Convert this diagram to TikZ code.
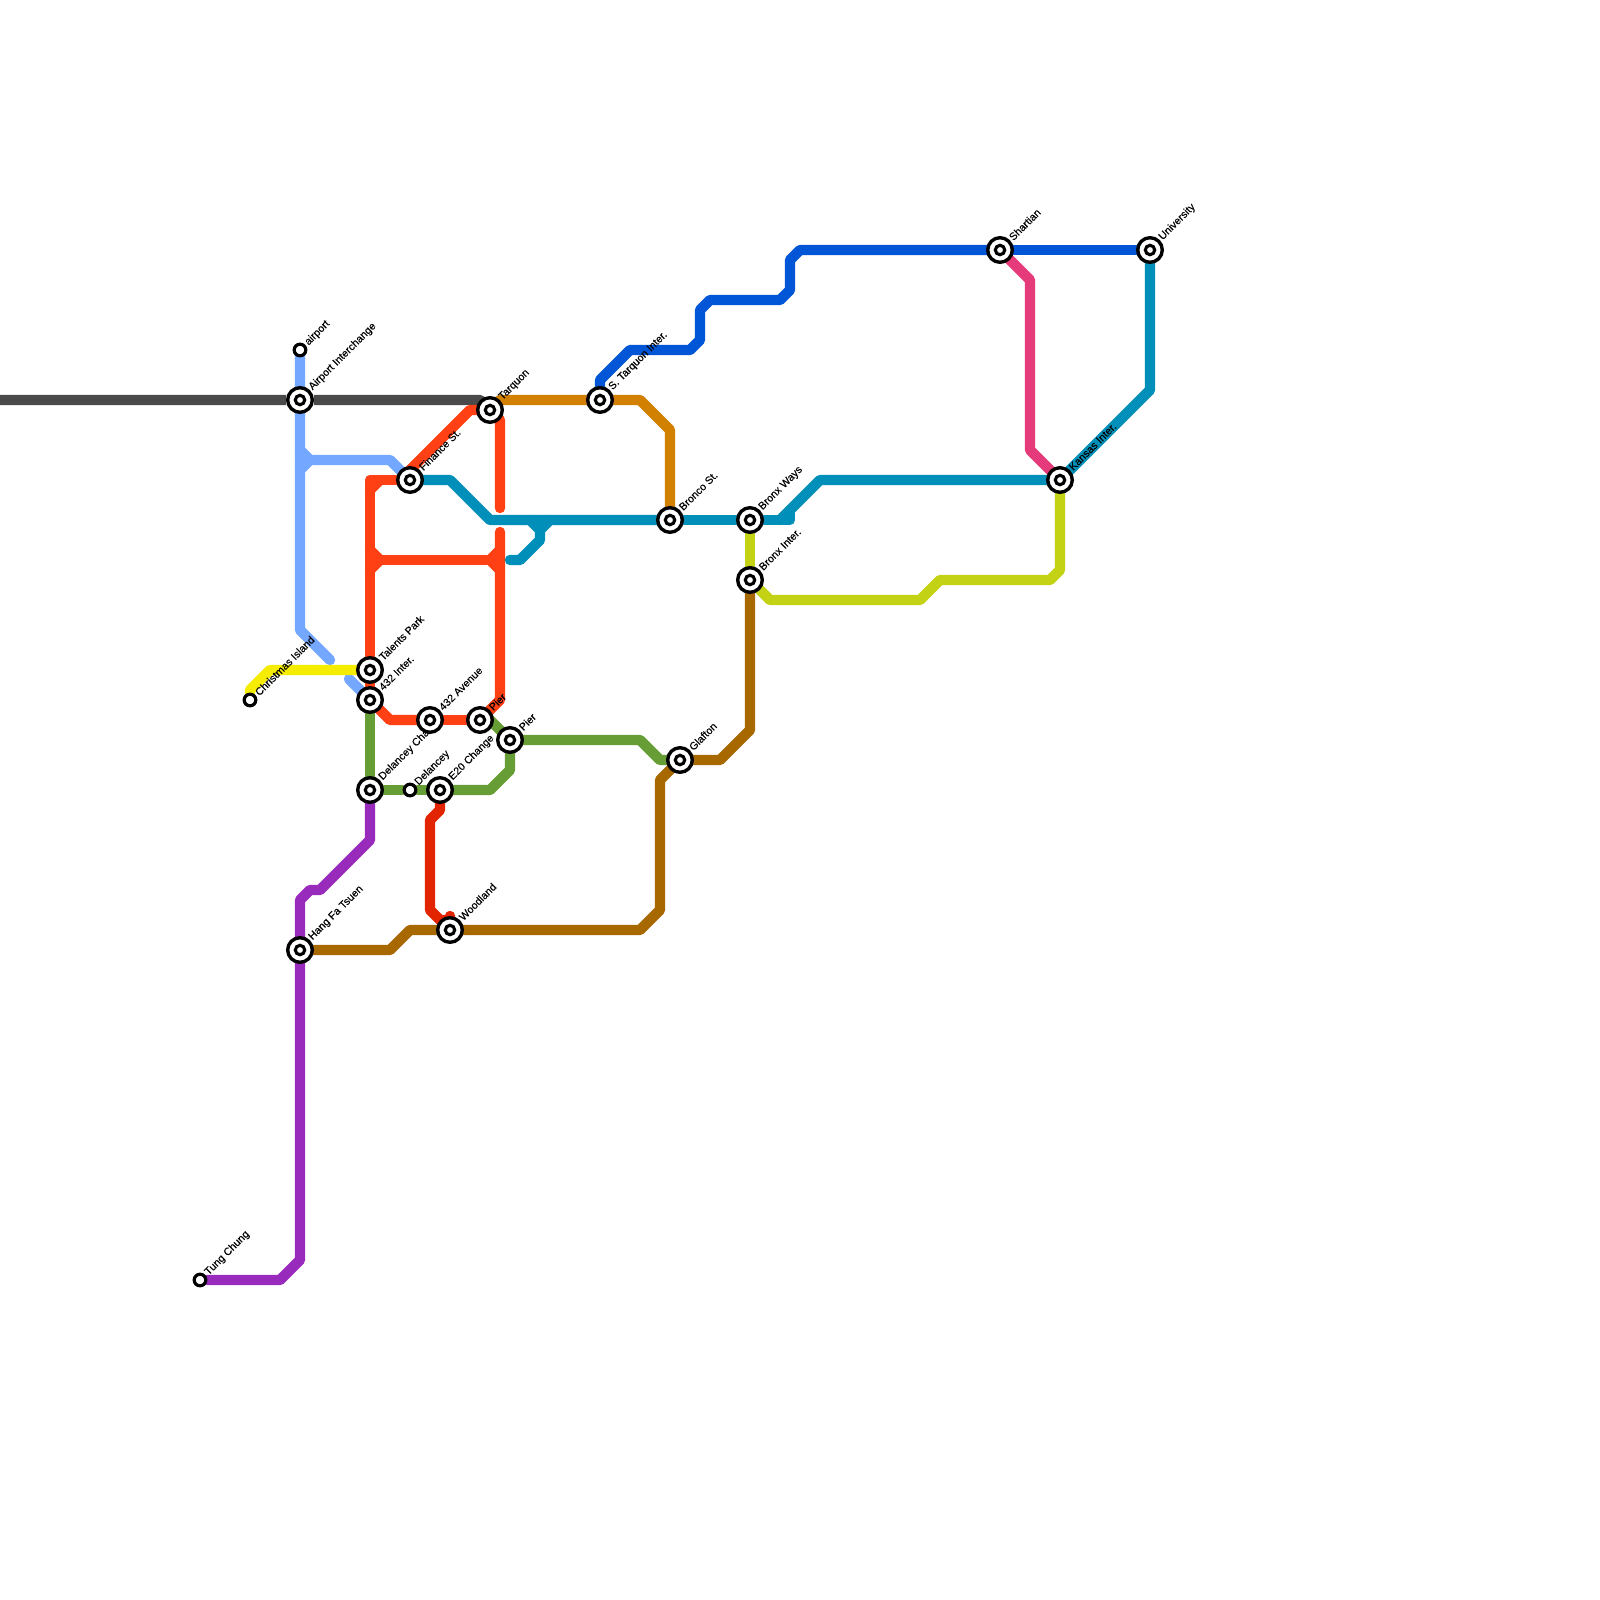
\documentclass[tikz,border=0pt]{standalone}
\usepackage{fontspec}
\setmainfont{Liberation Sans}
\newfontfamily\lblfont[FakeBold=0.25]{Liberation Sans}
\pgfdeclarelayer{lab}
\pgfdeclarelayer{front}
\pgfsetlayers{main,lab,front}
\definecolor{cGrey}{HTML}{4A4A4A}
\definecolor{cOrange}{HTML}{D28000}
\definecolor{cRedO}{HTML}{FF4014}
\definecolor{cLight}{HTML}{74A7FF}
\definecolor{cTeal}{HTML}{008FB8}
\definecolor{cBlue}{HTML}{0056D6}
\definecolor{cPink}{HTML}{E63B7A}
\definecolor{cLime}{HTML}{C4D215}
\definecolor{cBrown}{HTML}{A86800}
\definecolor{cGreen}{HTML}{669D34}
\definecolor{cRed}{HTML}{E22400}
\definecolor{cPurple}{HTML}{982ABC}
\definecolor{cYellow}{HTML}{F5EC00}
\tikzset{
  x=5pt,y=-5pt,
  rail/.style={line width=5.2pt,line cap=round,line join=round},
  hub/.style={circle,draw=black,line width=1.7pt,fill=white,minimum size=12.3pt,inner sep=0pt,
    path picture={\draw[black,line width=1.55pt] (path picture bounding box.center) circle (2.35pt);}},
  halt/.style={circle,draw=black,line width=1.6pt,fill=white,minimum size=5.8pt,inner sep=0pt},
  lbl/.style={font=\lblfont\fontsize{5.3pt}{6pt}\selectfont,rotate=45,anchor=west,inner sep=0pt,text=black},
}
\newcommand{\Hub}[4]{%
  \begin{pgfonlayer}{front}\node[hub] (#1) at (#2,#3) {};\end{pgfonlayer}
  \begin{pgfonlayer}{lab}\node[lbl] (#1L) at (#2+1.05,#3-1.12) {#4};\end{pgfonlayer}}
\newcommand{\Halt}[4]{%
  \begin{pgfonlayer}{front}\node[halt] (#1) at (#2,#3) {};\end{pgfonlayer}
  \begin{pgfonlayer}{lab}\node[lbl] (#1L) at (#2+0.65,#3-0.6) {#4};\end{pgfonlayer}}
\begin{document}
\begin{tikzpicture}
\useasboundingbox (0,0) rectangle (160,160);
\fill[white] (0,0) rectangle (160,160);
\Halt{air}{30}{35}{airport}
\Hub{airi}{30}{40}{Airport Interchange}
\Hub{fin}{41}{48}{Finance St.}
\Hub{tar}{49}{41}{Tarquon}
\Hub{star}{60}{40}{S. Tarquon Inter.}
\Hub{bro}{67}{52}{Bronco St.}
\Hub{bw}{75}{52}{Bronx Ways}
\Hub{bi}{75}{58}{Bronx Inter.}
\Hub{gla}{68}{76}{Glafton}
\Hub{tal}{37}{67}{Talents Park}
\Hub{fti}{37}{70}{432 Inter.}
\Hub{fta}{43}{72}{432 Avenue}
\Hub{pa}{48}{72}{Pier}
\Hub{pb}{51}{74}{Pier}
\Hub{dc}{37}{79}{Delancey Change}
\Halt{del}{41}{79}{Delancey}
\Hub{e20}{44}{79}{E20 Change}
\Hub{woo}{45}{93}{Woodland}
\Hub{hft}{30}{95}{Hang Fa Tsuen}
\Halt{tc}{20}{128}{Tung Chung}
\Halt{ci}{25}{70}{Christmas Island}
\Hub{sha}{100}{25}{Shartian}
\Hub{uni}{115}{25}{University}
\Hub{kan}{106}{48}{Kansas Inter.}
% orange
\draw[rail,cOrange] (tar.center) -- (50,40) -- (star) (star) -- (64,40) -- (67,43) -- (bro);
% grey
\draw[rail,cGrey,line cap=butt] (-1,40) -- (airi) (airi) -- (48,40) -- (48.6,40.6);
% light blue
\draw[rail,cLight] (air) -- (airi) (airi) -- (30,63) -- (33,66);
\draw[rail,cLight] (30,45) -- (31,46) -- (30,47);
\draw[rail,cLight] (31,46) -- (39,46) -- (fin);
\draw[rail,cLight] (34.9,67.9) -- (fti);
% red-orange
\draw[rail,cRedO] (fin.center) -- (41,47) -- (47,41) -- (tar);
\draw[rail,cRedO] (fin) -- (37,48) -- (tal);
\draw[rail,cRedO] (38,48) -- (37,49);
\draw[rail,cRedO] (37,55) -- (38,56) -- (37,57);
\draw[rail,cRedO] (38,56) -- (49,56);
\draw[rail,cRedO] (50,55) -- (49,56) -- (50,57);
\draw[rail,cRedO] (tar.center) -- (50,42) -- (50,50.8);
\draw[rail,cRedO] (50,53.2) -- (50,70) -- (pa);
\draw[rail,cRedO] (tal) -- (fti);
\draw[rail,cRedO] (fti) -- (39,72) -- (fta);
\draw[rail,cRedO] (fta) -- (pa);
% teal
\draw[rail,cTeal] (fin) -- (45,48) -- (49,52) -- (bro);
\draw[rail,cTeal] (bro) -- (bw);
\draw[rail,cTeal] (bw) -- (79,52) -- (79,51);
\draw[rail,cTeal] (78,52) -- (82,48) -- (kan);
\draw[rail,cTeal] (53,52) -- (54,53) -- (55,52);
\draw[rail,cTeal] (54,53) -- (54,54) -- (52,56) -- (51,56);
\draw[rail,cTeal] (kan) -- (115,39) -- (uni);
% blue
\draw[rail,cBlue] (star) -- (60,38) -- (63,35) -- (69,35) -- (70,34) -- (70,31) -- (71,30) -- (78,30) -- (79,29) -- (79,26) -- (80,25) -- (sha);
\draw[rail,cBlue] (sha) -- (uni);
% pink
\draw[rail,cPink] (sha) -- (103,28) -- (103,45) -- (kan);
% lime
\draw[rail,cLime] (bw) -- (bi);
\draw[rail,cLime] (bi) -- (77,60) -- (92,60) -- (94,58) -- (105,58) -- (106,57) -- (kan);
% brown
\draw[rail,cBrown] (bi) -- (75,73) -- (72,76) -- (gla);
\draw[rail,cBrown] (gla) -- (66,78) -- (66,91) -- (64,93) -- (woo);
\draw[rail,cBrown] (woo) -- (41,93) -- (39,95) -- (hft);
% green
\draw[rail,cGreen] (fti) -- (dc);
\draw[rail,cGreen] (dc) -- (del);
\draw[rail,cGreen] (del) -- (e20);
\draw[rail,cGreen] (e20) -- (49,79) -- (51,77) -- (pb);
\draw[rail,cGreen] (48.6,71.6) -- (pb);
\draw[rail,cGreen] (pb) -- (64,74) -- (66,76) -- (gla);
% red
\draw[rail,cRed] (e20) -- (44,81) -- (43,82) -- (43,91) -- (44,92) -- (45,92) -- (woo);
% purple
\draw[rail,cPurple] (dc) -- (37,84) -- (32,89) -- (31,89) -- (30,90) -- (hft);
\draw[rail,cPurple] (hft) -- (30,126) -- (28,128) -- (tc);
% yellow
\draw[rail,cYellow] (tal) -- (27,67) -- (25,69) -- (ci);
\end{tikzpicture}
\end{document}
